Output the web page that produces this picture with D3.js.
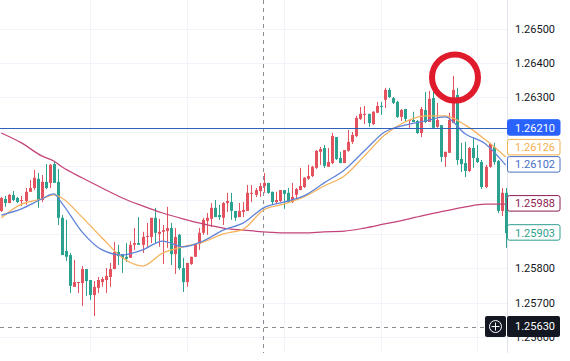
<!DOCTYPE html>
<html>
<head>
<meta charset="utf-8">
<script src="https://cdn.jsdelivr.net/npm/d3@7"></script>
<style>
  html, body { margin: 0; padding: 0; background: #fff; }
  text { font-family: Roboto, "Liberation Sans", sans-serif; }
</style>
</head>
<body>
<div id="chart"></div>
<script>
const open = [
  1.25968,1.26003,1.25991,1.26015,1.26006,1.25997,1.25997,1.26024,1.26035,1.26062,
  1.26000,1.26053,1.26050,1.26105,1.26053,1.25948,1.25851,1.25839,1.25746,1.25757,
  1.25757,1.25798,1.25766,1.25722,1.25743,1.25760,1.25766,1.25775,1.25798,1.25848,
  1.25842,1.25834,1.25831,1.25869,1.25874,1.25869,1.25892,1.25892,1.25948,1.25901,
  1.25907,1.25909,1.25918,1.25842,1.25898,1.25801,1.25760,1.25813,1.25834,1.25871,
  1.25904,1.25939,1.25945,1.25977,1.25956,1.25948,1.25991,1.25994,1.25968,1.25950,
  1.25965,1.25968,1.26018,1.26015,1.26026,1.26041,1.26050,1.26024,1.25994,1.25997,
  1.26029,1.26021,1.25994,1.26015,1.26029,1.26038,1.26062,1.26070,1.26094,1.26141,
  1.26152,1.26097,1.26108,1.26184,1.26123,1.26108,1.26144,1.26170,1.26187,1.26237,
  1.26249,1.26252,1.26222,1.26255,1.26275,1.26293,1.26322,1.26298,1.26287,1.26243,
  1.26266,1.26231,1.26234,1.26231,1.26196,1.26263,1.26228,1.26298,1.26214,1.26219,
  1.26126,1.26138,1.26225,1.26307,1.26120,1.26108,1.26085,1.26152,1.26123,1.26111,
  1.26038,1.26097,1.26155,1.26114,1.25968,1.26021
];
const high = [
  1.26009,1.26012,1.26018,1.26026,1.26009,1.26012,1.26035,1.26059,1.26088,1.26079,
  1.26073,1.26105,1.26105,1.26114,1.26091,1.25956,1.25942,1.25845,1.25825,1.25760,
  1.25807,1.25798,1.25766,1.25763,1.25775,1.25775,1.25801,1.25816,1.25877,1.25869,
  1.25842,1.25874,1.25880,1.25918,1.25950,1.25907,1.25933,1.25948,1.25977,1.25945,
  1.25927,1.25980,1.25933,1.25918,1.25901,1.25831,1.25816,1.25834,1.25874,1.25918,
  1.25948,1.25962,1.25991,1.26000,1.25986,1.25994,1.26021,1.26021,1.25968,1.25991,
  1.25994,1.26044,1.26044,1.26035,1.26050,1.26079,1.26050,1.26024,1.26024,1.26029,
  1.26029,1.26035,1.26050,1.26035,1.26094,1.26067,1.26103,1.26100,1.26146,1.26155,
  1.26161,1.26152,1.26196,1.26184,1.26141,1.26146,1.26205,1.26199,1.26246,1.26272,
  1.26275,1.26252,1.26260,1.26287,1.26287,1.26328,1.26328,1.26301,1.26290,1.26266,
  1.26266,1.26234,1.26258,1.26234,1.26272,1.26316,1.26319,1.26316,1.26284,1.26219,
  1.26141,1.26255,1.26363,1.26328,1.26167,1.26170,1.26155,1.26182,1.26161,1.26117,
  1.26103,1.26167,1.26167,1.26117,1.26035,1.26035
];
const low = [
  1.25965,1.25980,1.25991,1.25997,1.25991,1.25983,1.25986,1.26024,1.26029,1.25977,
  1.25994,1.26032,1.26035,1.26050,1.25927,1.25839,1.25822,1.25728,1.25746,1.25728,
  1.25690,1.25720,1.25708,1.25661,1.25728,1.25746,1.25728,1.25746,1.25798,1.25810,
  1.25787,1.25819,1.25831,1.25854,1.25869,1.25845,1.25863,1.25874,1.25874,1.25863,
  1.25813,1.25860,1.25810,1.25784,1.25796,1.25731,1.25746,1.25810,1.25834,1.25854,
  1.25898,1.25898,1.25921,1.25950,1.25942,1.25927,1.25965,1.25942,1.25939,1.25950,
  1.25950,1.25968,1.25994,1.26009,1.26009,1.26021,1.26018,1.25988,1.25988,1.25994,
  1.25974,1.25991,1.25991,1.26003,1.26029,1.26035,1.26059,1.26067,1.26091,1.26103,
  1.26094,1.26097,1.26105,1.26117,1.26108,1.26108,1.26141,1.26164,1.26184,1.26234,
  1.26222,1.26214,1.26219,1.26255,1.26249,1.26269,1.26298,1.26281,1.26240,1.26231,
  1.26231,1.26211,1.26228,1.26193,1.26184,1.26225,1.26228,1.26208,1.26211,1.26111,
  1.26097,1.26138,1.26225,1.26103,1.26082,1.26067,1.26082,1.26094,1.26108,1.26032,
  1.26035,1.26094,1.26103,1.25962,1.25953,1.25860
];
const close = [
  1.26006,1.25991,1.26015,1.26000,1.25994,1.26000,1.26024,1.26035,1.26065,1.26000,
  1.26053,1.26035,1.26103,1.26050,1.25948,1.25839,1.25834,1.25749,1.25760,1.25760,
  1.25798,1.25763,1.25722,1.25746,1.25766,1.25769,1.25778,1.25798,1.25848,1.25836,
  1.25831,1.25828,1.25869,1.25874,1.25869,1.25892,1.25895,1.25948,1.25904,1.25907,
  1.25912,1.25918,1.25842,1.25892,1.25801,1.25760,1.25816,1.25834,1.25871,1.25904,
  1.25942,1.25948,1.25977,1.25950,1.25950,1.25991,1.25997,1.25968,1.25948,1.25968,
  1.25971,1.26021,1.26021,1.26029,1.26041,1.26050,1.26021,1.25994,1.26000,1.26029,
  1.26018,1.25994,1.26009,1.26032,1.26041,1.26065,1.26070,1.26097,1.26144,1.26149,
  1.26100,1.26111,1.26187,1.26120,1.26108,1.26146,1.26170,1.26190,1.26240,1.26252,
  1.26252,1.26225,1.26258,1.26275,1.26272,1.26322,1.26301,1.26284,1.26243,1.26263,
  1.26237,1.26234,1.26228,1.26196,1.26266,1.26228,1.26296,1.26211,1.26234,1.26126,
  1.26141,1.26234,1.26322,1.26117,1.26105,1.26085,1.26152,1.26123,1.26111,1.26038,
  1.26097,1.26164,1.26111,1.25968,1.26021,1.25903
];

const maIndex = [0,5,10,13,15,20,25,30,35,40,45,50,55,60,65,70,75,80,85,90,95,100,105,110,115,120,125];
const maBlue = [
  1.25956,1.25974,1.26003,1.26018,1.25991,1.25907,1.25854,1.25839,1.25854,1.25880,1.25863,1.25880,1.25912,
  1.25933,1.25977,1.25994,1.26012,1.26050,1.26088,1.26144,1.26199,1.26219,1.26231,1.26243,1.26193,1.26164,1.26102
];
const maOrange = [
  1.25948,1.25988,1.26003,1.26015,1.26006,1.25950,1.25889,1.25831,1.25807,1.25845,1.25863,1.25877,1.25901,
  1.25915,1.25971,1.25988,1.26009,1.26041,1.26070,1.26129,1.26190,1.26228,1.26246,1.26246,1.26219,1.26176,1.26126
];
const maPurple = [
  1.26196,1.26167,1.26129,1.26114,1.26097,1.26065,1.26035,1.26006,1.25983,1.25962,1.25945,1.25930,1.25918,
  1.25912,1.25907,1.25904,1.25904,1.25907,1.25909,1.25918,1.25930,1.25942,1.25956,1.25968,1.25980,1.25988,1.25988
];

const gridPrices = [1.265,1.264,1.263,1.262,1.261,1.26,1.259,1.258,1.257,1.256];
const axisPrices = [1.265,1.264,1.263,1.258,1.257,1.256];
const gridCandles = [22,46,70,94,118];

const levelPrice = 1.2621;
const crossPrice = 1.2563;
const crossCandle = 65;

const tagPrices = [1.2621,1.26126,1.26102,1.25988,1.25903];
const tagColors = ["#2962ff","#f2b04f","#4a6fc4","#8e1c52","#2f9e8d"];
const tagShift = [-1,-10,-1,-1,-1];

const width = 570, height = 361;
const axisX = 507, chartBottom = 353;
const upColor = "#e2535f", downColor = "#2ba28f";
const labelSize = "11px";

const svg = d3.select("#chart").append("svg")
    .attr("width", width)
    .attr("height", height)
    .style("display", "block");

const x = d3.scaleLinear().domain([0, 125]).range([1.3, 505.7]);
const y = d3.scaleLinear().domain([1.265, 1.256]).range([29, 336.8]);

// grid
svg.append("g").selectAll("line")
    .data(gridPrices)
    .enter().append("line")
    .attr("x1", 0).attr("x2", axisX)
    .attr("y1", d => Math.round(y(d)) + 0.5)
    .attr("y2", d => Math.round(y(d)) + 0.5)
    .attr("stroke", "#f0f3fa");

svg.append("g").selectAll("line")
    .data(gridCandles)
    .enter().append("line")
    .attr("x1", d => Math.round(x(d)) + 0.5)
    .attr("x2", d => Math.round(x(d)) + 0.5)
    .attr("y1", 0).attr("y2", chartBottom)
    .attr("stroke", "#f0f3fa");

svg.append("line")
    .attr("x1", axisX + 0.5).attr("x2", axisX + 0.5)
    .attr("y1", 0).attr("y2", chartBottom)
    .attr("stroke", "#e0e3eb");

// crosshair
svg.append("line")
    .attr("x1", Math.round(x(crossCandle)) - 0.5)
    .attr("x2", Math.round(x(crossCandle)) - 0.5)
    .attr("y1", 0).attr("y2", chartBottom)
    .attr("stroke", "#8a8d96")
    .attr("stroke-dasharray", "4,4");

svg.append("line")
    .attr("x1", 0).attr("x2", 486)
    .attr("y1", Math.round(y(crossPrice)) + 0.5)
    .attr("y2", Math.round(y(crossPrice)) + 0.5)
    .attr("stroke", "#8a8d96")
    .attr("stroke-dasharray", "4,4");

// candles
const candles = svg.append("g").selectAll("g")
    .data(open.map((o, i) => ({ i: i, o: o, h: high[i], l: low[i], c: close[i] })))
    .enter().append("g")
    .attr("fill", d => d.c >= d.o ? upColor : downColor)
    .attr("stroke", d => d.c >= d.o ? upColor : downColor);

candles.append("line")
    .attr("x1", d => Math.round(x(d.i)) + 0.5)
    .attr("x2", d => Math.round(x(d.i)) + 0.5)
    .attr("y1", d => y(d.h))
    .attr("y2", d => y(d.l));

candles.append("rect")
    .attr("stroke", "none")
    .attr("x", d => Math.round(x(d.i)) - 1)
    .attr("width", 3)
    .attr("y", d => y(Math.max(d.o, d.c)))
    .attr("height", d => Math.max(1, Math.abs(y(d.o) - y(d.c))));

// moving averages
const maLine = values => d3.line()
    .curve(d3.curveMonotoneX)
    .x(d => x(d))
    .y((d, i) => y(values[i]))(maIndex);

[[maPurple, "#c4447a"], [maOrange, "#f5b25c"], [maBlue, "#5f83d9"]].forEach(m => {
    svg.append("path")
        .attr("d", maLine(m[0]))
        .attr("fill", "none")
        .attr("stroke", m[1])
        .attr("stroke-width", 1.25);
});

// price level
svg.append("line")
    .attr("x1", 0).attr("x2", axisX)
    .attr("y1", Math.round(y(levelPrice)) + 0.5)
    .attr("y2", Math.round(y(levelPrice)) + 0.5)
    .attr("stroke", "#2f63b8");

// red circle
svg.append("circle")
    .attr("cx", 455).attr("cy", 77.5).attr("r", 23)
    .attr("fill", "none")
    .attr("stroke", "#e01b2b")
    .attr("stroke-width", 6);

// price axis
const axis = svg.append("g")
    .attr("transform", `translate(${axisX},0)`)
    .call(d3.axisRight(y).tickValues(axisPrices).tickFormat(d3.format(".5f")).tickSize(0).tickPadding(8));
axis.select(".domain").remove();
axis.selectAll("text")
    .style("font-family", "Roboto, 'Liberation Sans', sans-serif")
    .style("font-size", labelSize)
    .attr("fill", "#131722");

// value tags
tagPrices.forEach((p, i) => {
    const cy = y(p) + tagShift[i];
    svg.append("rect")
        .attr("x", axisX + 0.5).attr("y", cy - 7.5)
        .attr("width", 52.5).attr("height", 15.5)
        .attr("rx", 2)
        .attr("fill", i === 0 ? tagColors[i] : "#fff")
        .attr("stroke", tagColors[i]);
    svg.append("text")
        .attr("x", axisX + 8).attr("y", cy + 0.5)
        .attr("dy", "0.35em")
        .style("font-size", labelSize)
        .attr("fill", i === 0 ? "#fff" : tagColors[i])
        .text(d3.format(".5f")(p));
});

// crosshair price tag and plus button
const crossY = y(crossPrice);
svg.append("rect")
    .attr("x", axisX).attr("y", crossY - 10.5)
    .attr("width", 53).attr("height", 21)
    .attr("rx", 2)
    .attr("fill", "#131722");
svg.append("text")
    .attr("x", axisX + 8).attr("y", crossY)
    .attr("dy", "0.35em")
    .style("font-size", labelSize)
    .attr("fill", "#fff")
    .text(d3.format(".5f")(crossPrice));
svg.append("rect")
    .attr("x", 485).attr("y", crossY - 10.5)
    .attr("width", 21).attr("height", 21)
    .attr("rx", 2)
    .attr("fill", "#131722");
svg.append("circle")
    .attr("cx", 495.5).attr("cy", crossY)
    .attr("r", 6)
    .attr("fill", "none")
    .attr("stroke", "#fff");
svg.append("path")
    .attr("d", `M491.5,${crossY}H499.5M495.5,${crossY - 4}V${crossY + 4}`)
    .attr("stroke", "#fff");
</script>
</body>
</html>
